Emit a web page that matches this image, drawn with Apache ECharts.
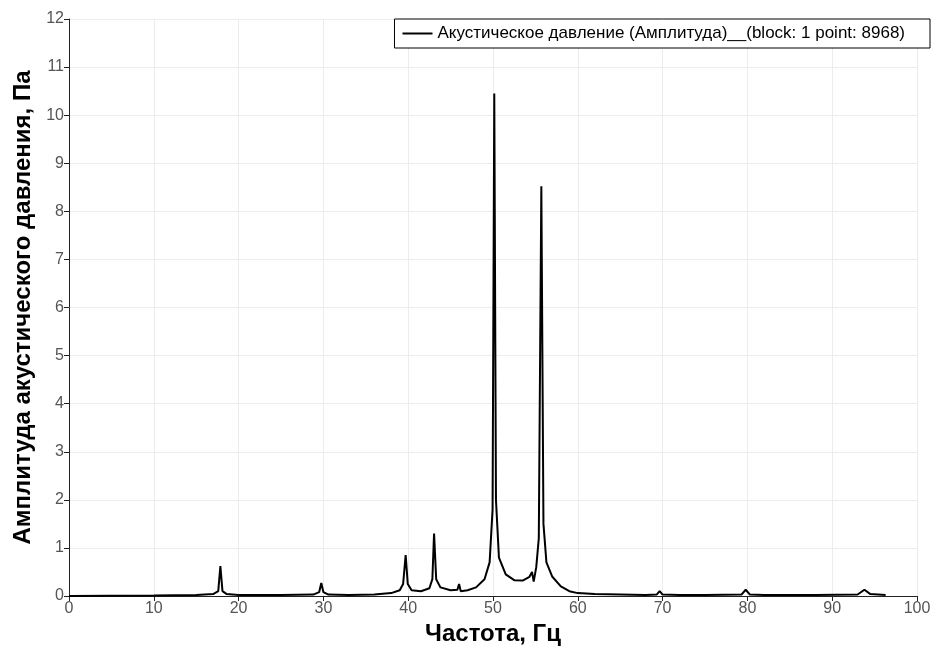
<!DOCTYPE html>
<html>
<head>
<meta charset="utf-8">
<script src="https://cdn.jsdelivr.net/npm/echarts@6/dist/echarts.min.js"></script>
<style>html,body{margin:0;padding:0;background:#fff;}</style>
</head>
<body>
<div id="main" style="width:937px;height:653px;"></div>
<script>
// частота, Гц
var freq = [0, 5, 10, 15, 17, 17.6, 17.85, 18.1, 18.6, 20, 25, 28.8, 29.5, 29.75, 30.0, 30.6, 33, 36, 38, 39, 39.4, 39.7, 39.95, 40.4,
  41.5, 42.5, 42.85, 43.05, 43.3, 43.8, 45, 45.8, 46.0, 46.2, 47, 48, 49, 49.6, 49.95, 50.15, 50.35, 50.7, 51.5, 52.5, 53.5,
  54.3, 54.6, 54.8, 55.1, 55.4, 55.7, 55.95, 56.3, 57, 58, 59, 60, 62, 65, 68, 69.3, 69.65, 70.0, 72, 75, 79.3, 79.8, 80.3,
  82, 88, 93, 93.8, 94.5, 96.3];
// амплитуда, Па
var amp = [0, 0.005, 0.01, 0.02, 0.04, 0.1, 0.62, 0.1, 0.04, 0.02, 0.02, 0.03, 0.08, 0.27, 0.08, 0.03, 0.02, 0.03, 0.06, 0.12, 0.25, 0.85, 0.25, 0.12,
  0.1, 0.16, 0.35, 1.3, 0.35, 0.18, 0.12, 0.13, 0.25, 0.1, 0.12, 0.18, 0.35, 0.7, 1.8, 10.45, 2.0, 0.8, 0.45, 0.33, 0.32,
  0.4, 0.5, 0.3, 0.6, 1.2, 8.52, 1.5, 0.7, 0.4, 0.2, 0.1, 0.06, 0.04, 0.03, 0.02, 0.03, 0.1, 0.03, 0.02, 0.02, 0.03, 0.13, 0.03,
  0.02, 0.02, 0.03, 0.13, 0.04, 0.02];
var seriesName = 'Акустическое давление (Амплитуда)__(block: 1 point: 8968)';

var points = freq.map(function (f, i) { return [f, amp[i]]; });

var myChart = echarts.init(document.getElementById('main'));
var option = {
  animation: false,
  textStyle: { fontFamily: 'Liberation Sans, Arial, sans-serif' },
  grid: { left: 69, right: 20, top: 19, bottom: 57 },
  legend: {
    right: 7, top: 19,
    backgroundColor: '#fff',
    borderColor: '#000', borderWidth: 1, borderRadius: 0,
    padding: [6, 25, 6, 8],
    icon: 'rect', itemWidth: 30, itemHeight: 2, itemGap: 5,
    textStyle: { color: '#000', fontSize: 17 },
    data: [seriesName]
  },
  xAxis: {
    type: 'value', min: 0, max: 100, interval: 10,
    name: 'Частота, Гц', nameLocation: 'middle', nameGap: 24,
    nameTextStyle: { fontSize: 24, fontWeight: 'bold', color: '#000' },
    axisLine: { show: true, lineStyle: { color: '#222' } },
    axisTick: { show: true, length: 5, lineStyle: { color: '#222' } },
    axisLabel: { fontSize: 16, color: '#555', margin: 5 },
    splitLine: { show: true, lineStyle: { color: '#ececec' } }
  },
  yAxis: {
    type: 'value', min: 0, max: 12, interval: 1,
    name: 'Амплитуда акустического давления, Па', nameLocation: 'middle', nameGap: 33,
    nameTextStyle: { fontSize: 24, fontWeight: 'bold', color: '#000' },
    axisLine: { show: true, lineStyle: { color: '#222' } },
    axisTick: { show: true, length: 5, lineStyle: { color: '#222' } },
    axisLabel: { fontSize: 16, color: '#555', margin: 5 },
    splitLine: { show: true, lineStyle: { color: '#ececec' } }
  },
  series: [{
    name: seriesName,
    type: 'line',
    data: points,
    showSymbol: false,
    lineStyle: { color: '#000', width: 2 },
    itemStyle: { color: '#000' }
  }]
};
myChart.setOption(option);
</script>
</body>
</html>
